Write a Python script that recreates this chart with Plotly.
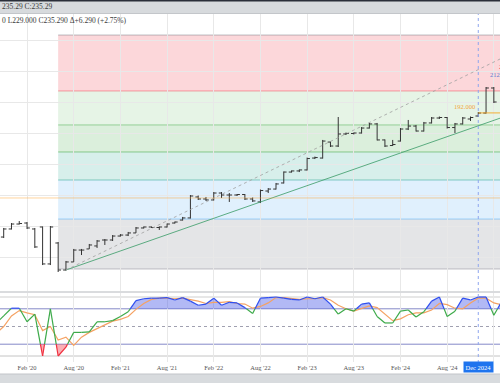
import numpy as np
import pandas as pd
import plotly.graph_objects as go
from plotly.subplots import make_subplots

# ---------------- data ----------------
months = [p.strftime("%Y-%m") for p in pd.period_range("2019-10", "2025-03", freq="M")]
bar_months = months[:-1]  # Oct 2019 .. Feb 2025

bar_open = [91.5, 91.1, 97.6, 101.6, 102.4, 97.6, 99.2, 69.4, 86.3, 64.5,
            71.0, 80.6, 81.5, 83.9, 88.7, 88.7, 91.9, 92.7, 94.4, 98.4,
            99.2, 98.8, 99.2, 102.4, 104.8, 106.5, 123.4, 121.8, 121.0, 126.6,
            125.0, 125.0, 125.4, 121.8, 119.4, 128.2, 129.8, 134.7, 143.5, 144.4,
            145.2, 154.8, 154.8, 167.7, 164.5, 174.2, 174.6, 175.0, 179.0, 182.3,
            169.4, 164.9, 168.5, 178.2, 180.6, 176.6, 183.1, 187.1, 187.5, 179.4,
            182.3, 186.3, 188.7, 191.1, 211.3]
bar_high = [93.0, 98.4, 102.4, 104.0, 103.2, 98.4, 99.6, 100.0, 87.1, 71.8,
            81.5, 81.5, 85.5, 88.7, 89.5, 92.7, 93.5, 95.2, 99.2, 99.6,
            99.6, 99.6, 102.0, 103.6, 107.3, 125.0, 124.6, 123.4, 127.4, 127.4,
            126.6, 125.8, 125.8, 123.0, 129.4, 130.6, 134.7, 144.0, 144.8, 145.6,
            155.2, 156.0, 169.4, 168.1, 187.9, 175.4, 175.4, 179.8, 183.1, 183.1,
            169.8, 169.4, 179.0, 185.5, 181.5, 183.9, 187.9, 188.3, 187.9, 183.1,
            187.9, 188.3, 191.9, 212.1, 212.1]
bar_low = [89.5, 90.3, 97.2, 101.2, 97.6, 82.3, 68.5, 68.5, 62.9, 64.1,
           71.0, 76.6, 81.5, 82.3, 84.7, 87.9, 91.5, 91.9, 94.4, 98.0,
           98.4, 96.8, 98.8, 102.0, 104.4, 106.0, 121.0, 120.2, 120.6, 122.6,
           119.4, 124.2, 121.0, 119.4, 118.5, 126.6, 129.4, 134.3, 143.1, 143.5,
           144.8, 154.0, 154.4, 163.7, 163.7, 173.4, 173.8, 174.6, 178.6, 169.0,
           163.7, 164.5, 168.1, 177.4, 176.2, 176.2, 182.7, 186.3, 178.6, 175.0,
           181.9, 184.7, 187.9, 190.7, 199.2]
bar_close = [91.1, 97.6, 101.6, 102.0, 98.4, 83.1, 69.4, 99.2, 64.5, 71.0,
             80.6, 80.6, 84.7, 87.9, 88.7, 91.9, 92.7, 94.4, 98.4, 99.2,
             98.8, 99.2, 101.6, 103.2, 106.5, 124.2, 121.8, 121.0, 126.6, 125.0,
             125.0, 125.4, 121.8, 120.2, 128.6, 129.8, 133.9, 143.5, 144.4, 145.2,
             154.4, 155.2, 168.5, 164.5, 174.2, 174.6, 175.0, 179.0, 182.3, 169.4,
             164.5, 165.7, 178.2, 180.6, 176.6, 183.1, 187.1, 187.5, 179.4, 182.3,
             187.1, 187.5, 191.1, 211.3, 200.0]

stoch_k = [55, 68, 81, 81, 58, 71, 0, 80, 0, 15,
           40, 40, 41, 58, 58, 60, 67, 75, 94, 97,
           98, 98, 99, 95, 99, 93, 86, 88, 98, 86,
           91, 90, 82, 72, 98, 99, 100, 98, 96, 95,
           100, 97, 100, 88, 71, 80, 76, 88, 90, 67,
           56, 56, 76, 78, 66, 75, 93, 100, 67, 76,
           98, 95, 100, 100, 69, 92]
stoch_d = [38, 50, 68, 77, 73, 70, 43, 50, 27, 32,
           18, 32, 40, 46, 52, 59, 62, 67, 79, 89,
           96, 98, 98, 97, 98, 96, 93, 89, 91, 91,
           92, 89, 88, 81, 84, 90, 99, 99, 98, 96,
           97, 97, 99, 95, 86, 80, 76, 81, 85, 82,
           71, 60, 63, 70, 73, 73, 78, 89, 87, 81,
           80, 90, 98, 98, 90, 87]

tick_months = ["2020-02", "2020-08", "2021-02", "2021-08", "2022-02", "2022-08",
               "2023-02", "2023-08", "2024-02", "2024-08", "2025-02"]
tick_text = ["Feb '20", "Aug '20", "Feb '21", "Aug '21", "Feb '22", "Aug '22",
             "Feb '23", "Aug '23", "Feb '24", "Aug '24", "Feb '25"]

fib_start_month = "2020-06"
fib_levels = [254.0, 208.9, 181.5, 159.7, 137.1, 105.6, 65.3]
fib_band_colors = ["rgba(242,54,69,0.2)", "rgba(129,199,132,0.2)", "rgba(76,175,80,0.2)",
                   "rgba(8,153,129,0.16)", "rgba(100,181,246,0.2)", "rgba(120,123,134,0.2)"]
fib_line_colors = ["rgba(120,123,134,0.5)", "rgba(242,54,69,0.45)", "rgba(129,199,132,0.8)",
                   "rgba(76,175,80,0.6)", "rgba(8,153,129,0.45)", "rgba(100,181,246,0.6)",
                   "rgba(120,123,134,0.45)"]

trend_months = ["2020-07", "2025-03"]
trend_green = [64.5, 187.4]
trend_dotted = [64.5, 235.29]
hline_orange = 122.6
ray_192 = 191.2
crosshair_month = "2024-12"

# ---------------- figure ----------------
H = 383.0
def py(px):
    return 1 - px / H

xi = {m: i for i, m in enumerate(months)}
bx = [xi[m] for m in bar_months]
sx = [xi[m] for m in months]

fig = make_subplots(rows=2, cols=1, shared_xaxes=True)

fig.add_trace(go.Ohlc(x=bx, open=bar_open, high=bar_high, low=bar_low, close=bar_close,
                      increasing=dict(line=dict(color="#333333", width=1)),
                      decreasing=dict(line=dict(color="#333333", width=1)),
                      tickwidth=0.36, hoverinfo="skip", showlegend=False), row=1, col=1)

fig.add_trace(go.Scatter(x=[xi[m] for m in trend_months], y=trend_green, mode="lines",
                         line=dict(color="rgba(67,160,110,0.85)", width=1), showlegend=False,
                         hoverinfo="skip"), row=1, col=1)
fig.add_trace(go.Scatter(x=[xi[m] for m in trend_months], y=trend_dotted, mode="lines",
                         line=dict(color="rgba(160,160,160,0.8)", width=1, dash="dot"),
                         showlegend=False, hoverinfo="skip"), row=1, col=1)

# ---- stochastic pane ----
dense = []
for j in range(len(sx) - 1):
    x0, k0, x1, k1 = sx[j], stoch_k[j], sx[j + 1], stoch_k[j + 1]
    dense.append((x0, k0))
    cr = []
    for lvl in (20, 80):
        if (k0 - lvl) * (k1 - lvl) < 0:
            t = (lvl - k0) / (k1 - k0)
            cr.append((t, x0 + t * (x1 - x0), lvl))
    cr.sort()
    for c in cr:
        dense.append((c[1], c[2]))
dense.append((sx[-1], stoch_k[-1]))
dx = [p[0] for p in dense]
dk = [p[1] for p in dense]

fig.add_trace(go.Scatter(x=dx, y=[80] * len(dx), mode="lines", line=dict(width=0),
                         showlegend=False, hoverinfo="skip"), row=2, col=1)
fig.add_trace(go.Scatter(x=dx, y=[max(k, 80) for k in dk], mode="lines", line=dict(width=0),
                         fill="tonexty", fillcolor="rgba(63,81,230,0.40)",
                         showlegend=False, hoverinfo="skip"), row=2, col=1)
fig.add_trace(go.Scatter(x=dx, y=[20] * len(dx), mode="lines", line=dict(width=0),
                         showlegend=False, hoverinfo="skip"), row=2, col=1)
fig.add_trace(go.Scatter(x=dx, y=[min(k, 20) for k in dk], mode="lines", line=dict(width=0),
                         fill="tonexty", fillcolor="rgba(242,54,69,0.40)",
                         showlegend=False, hoverinfo="skip"), row=2, col=1)

fig.add_trace(go.Scatter(x=sx, y=stoch_d, mode="lines",
                         line=dict(color="#f5a263", width=1.2), showlegend=False,
                         hoverinfo="skip"), row=2, col=1)

segs = {"g": ([], []), "b": ([], []), "r": ([], [])}
for j in range(len(dx) - 1):
    mid = (dk[j] + dk[j + 1]) / 2
    key = "b" if mid > 80 else ("r" if mid < 20 else "g")
    segs[key][0].extend([dx[j], dx[j + 1], None])
    segs[key][1].extend([dk[j], dk[j + 1], None])
for key, col in (("g", "#3daa4a"), ("b", "#2f4ff0"), ("r", "#f0303f")):
    fig.add_trace(go.Scatter(x=segs[key][0], y=segs[key][1], mode="lines",
                             line=dict(color=col, width=1.2), showlegend=False,
                             hoverinfo="skip", connectgaps=False), row=2, col=1)

# ---------------- shapes ----------------
shapes = []
x_fib0 = xi[fib_start_month]
for b in range(len(fib_levels) - 1):
    shapes.append(dict(type="rect", xref="x", yref="y", x0=x_fib0, x1=80,
                       y0=fib_levels[b + 1], y1=fib_levels[b], fillcolor=fib_band_colors[b],
                       line=dict(width=0), layer="below"))
for lv, lc in zip(fib_levels, fib_line_colors):
    shapes.append(dict(type="line", xref="x", yref="y", x0=x_fib0, x1=80, y0=lv, y1=lv,
                       line=dict(color=lc, width=1), layer="below"))
shapes.append(dict(type="line", xref="paper", yref="y", x0=0, x1=1, y0=hline_orange,
                   y1=hline_orange, line=dict(color="rgba(255,160,40,0.45)", width=1)))
shapes.append(dict(type="line", xref="x", yref="y", x0=xi[crosshair_month], x1=80,
                   y0=ray_192, y1=ray_192, line=dict(color="rgba(245,166,35,0.9)", width=1)))
for lv, col, dash in ((100, "#cfcfcf", "solid"), (0, "#c4c4c4", "solid"),
                      (80, "#8589c8", "solid"), (20, "#8589c8", "solid"),
                      (50, "#a0a0b0", "dot")):
    shapes.append(dict(type="line", xref="paper", yref="y2", x0=0, x1=1, y0=lv, y1=lv,
                       line=dict(color=col, width=1, dash=dash), layer="below"))
shapes.append(dict(type="line", xref="paper", yref="paper", x0=0, x1=1, y0=py(292), y1=py(292),
                   line=dict(color="#b5b8bd", width=1)))
shapes.append(dict(type="rect", xref="paper", yref="paper", x0=0, x1=1, y0=py(14), y1=1,
                   fillcolor="#d7dadd", line=dict(width=0)))
shapes.append(dict(type="line", xref="paper", yref="paper", x0=0, x1=1, y0=py(13.5), y1=py(13.5),
                   line=dict(color="#c3c6ca", width=1)))
shapes.append(dict(type="rect", xref="paper", yref="paper", x0=0, x1=1, y0=py(1.5), y1=1,
                   fillcolor="#2a2e39", line=dict(width=0)))
shapes.append(dict(type="rect", xref="paper", yref="paper", x0=0, x1=1, y0=0, y1=py(374),
                   fillcolor="#d8dbde", line=dict(width=0)))
shapes.append(dict(type="line", xref="paper", yref="paper", x0=0, x1=1, y0=py(374), y1=py(374),
                   line=dict(color="#c2c5c9", width=1)))
shapes.append(dict(type="line", xref="x", yref="paper", x0=xi[crosshair_month],
                   x1=xi[crosshair_month], y0=py(363), y1=py(14),
                   line=dict(color="#8ea6ee", width=1, dash="dot")))

serif = "Liberation Serif"
annotations = [
    dict(xref="paper", yref="paper", x=0, y=py(7), xanchor="left", yanchor="middle",
         text="235.29 C:235.29", showarrow=False, font=dict(family=serif, size=7.5, color="#3a3a3a")),
    dict(xref="paper", yref="paper", x=0, y=py(20.5), xanchor="left", yanchor="middle",
         text="0 L229.000 C235.290 \u0394+6.290 (+2.75%)", showarrow=False,
         font=dict(family=serif, size=7.5, color="#3a3a3a")),
    dict(xref="x", yref="y", x=xi[crosshair_month], y=ray_192, xanchor="right", yanchor="bottom",
         xshift=-1, yshift=1, text="192.000", showarrow=False,
         font=dict(family=serif, size=6.5, color="#f2a53a")),
    dict(xref="x", yref="y", x=63.25, y=221.8, xanchor="left", yanchor="middle",
         text="212.400", showarrow=False, font=dict(family=serif, size=6.5, color="#5d7bd0")),
    dict(xref="x", yref="y", x=64.4, y=229.0, xanchor="left", yanchor="middle",
         text="229.000", showarrow=False, font=dict(family=serif, size=6.5, color="#f04a5a")),
    dict(xref="x", yref="paper", x=xi[crosshair_month], y=py(367), xanchor="center",
         yanchor="middle", text="Dec 2024", showarrow=False, bgcolor="#1f74ee",
         borderpad=1.5, font=dict(family=serif, size=6.5, color="white")),
]

x_lo = (0 - 3.7) / 7.78 + 1
x_hi = (500 - 3.7) / 7.78 + 1
tickvals = [xi[m] for m in tick_months]

fig.update_layout(
    width=500, height=383, margin=dict(l=0, r=0, t=0, b=0, autoexpand=False),
    paper_bgcolor="white", plot_bgcolor="white", showlegend=False,
    shapes=shapes, annotations=annotations,
)
axis_common = dict(range=[x_lo, x_hi], tickvals=tickvals, ticktext=tick_text, showgrid=True,
                   gridcolor="#e8e8e8", gridwidth=1, zeroline=False, showline=False, ticks="",
                   rangeslider=dict(visible=False), fixedrange=True, automargin=False)
fig.update_xaxes(**axis_common)
fig.update_layout(
    xaxis=dict(domain=[0, 1], showticklabels=False),
    xaxis2=dict(domain=[0, 1], showticklabels=True,
                tickfont=dict(family=serif, size=6.5, color="#555555")),
    yaxis=dict(domain=[py(291), py(14)], range=[200 - (291 - 102) / 1.24, 200 - (14 - 102) / 1.24],
               tickvals=[75, 100, 125, 150, 175, 200, 225, 250], showticklabels=False,
               showgrid=True, gridcolor="#e8e8e8", zeroline=False, showline=False, ticks="",
               automargin=False),
    yaxis2=dict(domain=[py(362), py(293)], range=[(356 - 362) / 0.59, (356 - 293) / 0.59],
                showticklabels=False, showgrid=False, zeroline=False, showline=False, ticks="",
                automargin=False),
)

fig.write_html("out.html", config={"displayModeBar": False},
               post_script="document.body.style.margin='0';document.body.style.overflow='hidden';")
